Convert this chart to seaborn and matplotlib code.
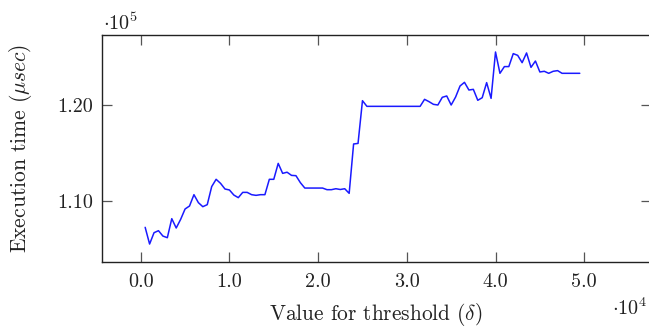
import matplotlib
matplotlib.use("Agg")
import matplotlib.pyplot as plt
import seaborn as sns
import pandas as pd
from matplotlib.ticker import FixedLocator, FuncFormatter

# threshold (delta) values
thresholds = [500, 1000, 1500, 2000, 2500, 3000, 3500, 4000, 4500, 5000,
              5500, 6000, 6500, 7000, 7500, 8000, 8500, 9000, 9500, 10000,
              10500, 11000, 11500, 12000, 12500, 13000, 13500, 14000, 14500, 15000,
              15500, 16000, 16500, 17000, 17500, 18000, 18500, 19000, 19500, 20000,
              20500, 21000, 21500, 22000, 22500, 23000, 23500, 24000, 24500, 25000,
              25500, 26000, 26500, 27000, 27500, 28000, 28500, 29000, 29500, 30000,
              30500, 31000, 31500, 32000, 32500, 33000, 33500, 34000, 34500, 35000,
              35500, 36000, 36500, 37000, 37500, 38000, 38500, 39000, 39500, 40000,
              40500, 41000, 41500, 42000, 42500, 43000, 43500, 44000, 44500, 45000,
              45500, 46000, 46500, 47000, 47500, 48000, 48500, 49000, 49500]

# execution time in microseconds
exec_time = [107260, 105520, 106700, 106910, 106350, 106180, 108160, 107190, 108090, 109170,
             109480, 110660, 109830, 109410, 109620, 111500, 112260, 111840, 111250, 111150,
             110620, 110350, 110900, 110900, 110660, 110590, 110660, 110660, 112260, 112260,
             113920, 112880, 113000, 112670, 112640, 111910, 111350, 111350, 111350, 111350,
             111350, 111180, 111180, 111280, 111200, 111280, 110800, 115940, 116000, 120450,
             119860, 119860, 119860, 119860, 119860, 119860, 119860, 119860, 119860, 119860,
             119860, 119860, 119860, 120590, 120350, 120070, 120000, 120800, 120940, 120000,
             120830, 121980, 122360, 121560, 121630, 120490, 120760, 122330, 120690, 125520,
             123300, 124000, 124000, 125350, 125170, 124410, 125420, 123920, 124580, 123440,
             123510, 123300, 123510, 123580, 123300, 123300, 123300, 123300, 123300]

x_ticks = [0, 10000, 20000, 30000, 40000, 50000]
y_ticks = [110000, 120000]
x_label = r"Value for threshold ($\delta$)"
y_label = r"Execution time ($\mu sec$)"

df = pd.DataFrame({"threshold": thresholds, "time": exec_time})

sns.set_style("ticks")
plt.rcParams["font.family"] = ["cmr10", "DejaVu Serif"]
plt.rcParams["mathtext.fontset"] = "cm"
plt.rcParams["axes.unicode_minus"] = False
plt.rcParams["axes.formatter.use_mathtext"] = True

W, H = 649, 326
fig = plt.figure(figsize=(W / 100, H / 100), dpi=100)
ax = fig.add_axes([101.7 / W, 1 - 261.7 / H, (651 - 101.7) / W, (261.7 - 35) / H])

sns.lineplot(data=df, x="threshold", y="time", ax=ax, color="#1a1aff",
             linewidth=1.1, estimator=None, sort=False)

ax.set_xlim(-4400, 57530)
ax.set_ylim(103680, 127290)
ax.xaxis.set_major_locator(FixedLocator(x_ticks))
ax.yaxis.set_major_locator(FixedLocator(y_ticks))
ax.xaxis.set_major_formatter(FuncFormatter(lambda v, p: f"{v / 1e4:.1f}"))
ax.yaxis.set_major_formatter(FuncFormatter(lambda v, p: f"{v / 1e5:.2f}"))

for s in ax.spines.values():
    s.set_visible(True)
    s.set_color("#222222")
    s.set_linewidth(1.0)
ax.spines["right"].set_visible(False)

ax.tick_params(direction="in", length=7, width=0.9, color="#555555",
               top=True, right=True, labelsize=14.5, labelcolor="#222222")
ax.tick_params(axis="x", pad=8)
ax.tick_params(axis="y", pad=6)

ax.set_xlabel("")
ax.set_ylabel("")
fig.text(375.5 / W, 1 - 320 / H, x_label, ha="center", va="baseline",
         fontsize=15.4, color="#222222")
fig.text(21 / W, 1 - 148 / H, y_label, ha="center", va="center",
         rotation=90, fontsize=15.5, color="#222222")
fig.text(103 / W, 1 - 30 / H, r"$\cdot 10^5$", ha="left", va="baseline",
         fontsize=14.5, color="#222222")
fig.text(647 / W, 1 - 315 / H, r"$\cdot 10^4$", ha="right", va="baseline",
         fontsize=14.5, color="#222222")

fig.savefig("out.png", dpi=100)
